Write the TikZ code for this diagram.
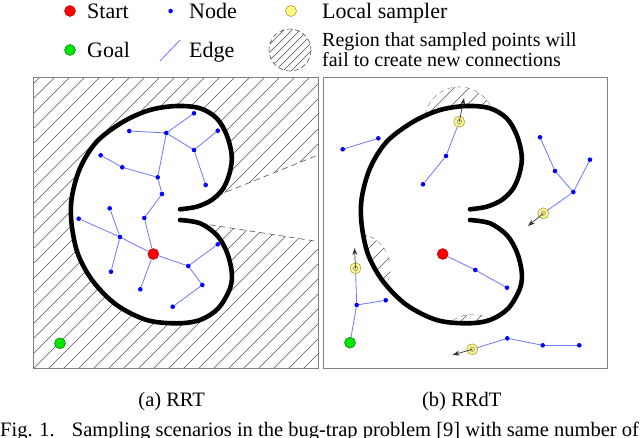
\documentclass[tikz,border=0pt]{standalone}
\usepackage{fontspec}
\setmainfont{Liberation Serif}
\usetikzlibrary{arrows.meta}
\definecolor{nodeblue}{RGB}{0,0,255}
\definecolor{edgeblue}{RGB}{110,120,255}
\definecolor{startred}{RGB}{255,0,0}
\definecolor{goalgreen}{RGB}{0,230,0}
\definecolor{sampyellow}{RGB}{255,248,130}
\definecolor{sampedge}{RGB}{170,160,70}
\definecolor{hatchgray}{RGB}{85,85,85}
\definecolor{boxgray}{RGB}{130,130,130}
\def\kidney{plot[smooth,tension=0.55] coordinates {(180,209.3) (196.7,206.7) (211.7,200) (223.3,188.3) (230,171.7) (231.7,155) (226.7,135) (216.7,118.3) (200,108.3) (176.7,106) (150,110) (123.3,121.7) (96.7,141.7) (80,168.3) (71.7,198.3) (71.7,225) (78.3,255) (93.3,281.7) (116.7,305) (146.7,320) (176.7,323.3) (200,320) (218.3,308.3) (230,288.3) (231.7,271.7) (226.7,251.7) (216.7,235) (200,223.3) (180,220)}}
\def\kidneyR{plot[smooth,tension=0.55] coordinates {(470,209.3) (486.7,206.7) (501.7,200) (513.3,188.3) (520,171.7) (521.7,155) (516.7,135) (506.7,118.3) (490,108.3) (466.7,106) (440,110) (413.3,121.7) (386.7,141.7) (370,168.3) (361.7,198.3) (361.7,225) (368.3,255) (383.3,281.7) (406.7,305) (436.7,320) (466.7,323.3) (490,320) (508.3,308.3) (520,288.3) (521.7,271.7) (516.7,251.7) (506.7,235) (490,223.3) (470,220)}}
\tikzset{
  lbl/.style={inner sep=0pt, font=\fontsize{22}{24}\selectfont},
  smalllbl/.style={inner sep=0pt, font=\fontsize{20}{22}\selectfont},
  caplbl/.style={inner sep=0pt, font=\fontsize{20.5}{22}\selectfont},
  nd/.style={circle, fill=nodeblue, inner sep=0pt, minimum size=4.6pt},
  edge/.style={draw=edgeblue, line width=0.8pt},
  startnd/.style={circle, fill=startred, draw=red!60!black, line width=0.4pt, inner sep=0pt, minimum size=11pt},
  goalnd/.style={circle, fill=goalgreen, draw=green!40!black, line width=0.4pt, inner sep=0pt, minimum size=11pt},
  sampnd/.style={circle, fill=sampyellow, draw=sampedge, line width=0.6pt, inner sep=0pt, minimum size=11pt,
     path picture={\draw[gray, line width=0.5pt] (path picture bounding box.center) circle[radius=2.2pt];}},
  hatch/.style={draw=hatchgray, line width=0.6pt},
  wall/.style={line width=4.6pt, line cap=round, black},
  panel/.style={draw=boxgray, line width=1pt},
  arr/.style={draw=black!80, line width=0.7pt, -{Stealth[length=7pt,width=5pt]}},
}
\begin{document}
\begin{tikzpicture}[x=1pt,y=-1pt]
\useasboundingbox (0,0) rectangle (640,437);
\clip (0,0) rectangle (640,437);
\fill[white] (0,0) rectangle (640,437);

% ---------------- legend ----------------
\node[startnd] (lgStart) at (70,11) {};
\node[lbl, anchor=base west] (lgStartT) at (87,18.5) {Start};
\node[nd] (lgNode) at (170.6,11) {};
\node[lbl, anchor=base west] (lgNodeT) at (189,18.5) {Node};
\node[sampnd, path picture={}] (lgSamp) at (291,11) {};
\node[lbl, anchor=base west] (lgSampT) at (322,18.5) {Local sampler};
\node[goalnd] (lgGoal) at (70,50) {};
\node[lbl, anchor=base west] (lgGoalT) at (87,57) {Goal};
\coordinate (lgE1) at (160,61);
\coordinate (lgE2) at (180,40);
\draw[edge] (lgE1) -- (lgE2);
\node[lbl, anchor=base west] (lgEdgeT) at (189,57) {Edge};
\coordinate (lgR) at (290,50);
\begin{scope}
  \clip (lgR) circle[radius=21];
  \foreach \i in {-8,...,8} \draw[hatch] (290+8*\i,80) -- ++(60,-60);
\end{scope}
\draw[hatch, dashed, dash pattern=on 5pt off 3pt] (lgR) circle[radius=21];
\node[smalllbl, anchor=base west] (lgRT1) at (322,46) {Region that sampled points will};
\node[smalllbl, anchor=base west] (lgRT2) at (322,66.5) {fail to create new connections};

% ---------------- left panel (RRT) ----------------
\begin{scope}
  \clip (33,77) rectangle (318,368);
  \foreach \i in {-20,...,20} \draw[hatch] (34+15*\i,368) -- ++(300,-300);
\end{scope}
\fill[white] (180,210.6) -- (318,155) -- (318,241.5) -- (180,220.2) -- cycle;
\draw[hatch, dashed, dash pattern=on 6pt off 4pt] (180,210.6) -- (318,155);
\draw[hatch, dashed, dash pattern=on 6pt off 4pt] (180,220.2) -- (318,241.5);
\fill[white] \kidney -- cycle;
\draw[panel] (33,77) rectangle (318,368);
\draw[wall] \kidney;

\node[nd] (a) at (194,113.3) {};
\node[nd] (b) at (217.7,130.7) {};
\node[nd] (c) at (129.3,131) {};
\node[nd] (d) at (166.3,133) {};
\node[nd] (e) at (194,150) {};
\node[nd] (f) at (100.7,155.3) {};
\node[nd] (g) at (122.3,167.3) {};
\node[nd] (h) at (157.7,177.3) {};
\node[nd] (i) at (205.7,185) {};
\node[nd] (j) at (162,194) {};
\node[nd] (k) at (109.7,208.3) {};
\node[nd] (l) at (78.7,218.7) {};
\node[nd] (m) at (144.3,218) {};
\node[nd] (n) at (120,237) {};
\node[nd] (o) at (217.7,244.3) {};
\node[nd] (p) at (188.3,266) {};
\node[nd] (q) at (111,271.7) {};
\node[nd] (r) at (202.3,285) {};
\node[nd] (s) at (140.3,289.3) {};
\node[nd] (t) at (172.7,306.7) {};
\node[startnd] (S) at (153.3,254) {};
\node[goalnd] (G) at (60,343.3) {};
\foreach \u/\v in {S/m, m/j, j/h, h/d, h/g, g/f, d/c, d/a, d/e, e/b, e/i, S/n, n/l, n/k, n/q, S/s, S/p, p/o, p/r, r/t}
  \draw[edge] (\u) -- (\v);

% ---------------- right panel (RRdT) ----------------
\coordinate (Y1c) at (459.3,121.7);
\coordinate (Y2c) at (543.3,213.3);
\coordinate (Y3c) at (355.5,268.3);
\coordinate (Y4c) at (472.3,349.3);
\begin{scope}
  \clip (Y1c) circle[radius=35];
  \foreach \i in {-25,...,25} \draw[hatch] (324+15*\i,368) -- ++(300,-300);
  \draw[hatch, dashed, dash pattern=on 5pt off 4pt] (Y1c) circle[radius=35];
\end{scope}
\fill[white] \kidneyR -- cycle;
\begin{scope}
  \clip \kidneyR -- cycle;
  \begin{scope}
    \clip (Y3c) circle[radius=35];
    \foreach \i in {-25,...,25} \draw[hatch] (324+15*\i,368) -- ++(300,-300);
    \draw[hatch, dashed, dash pattern=on 5pt off 4pt] (Y3c) circle[radius=35];
  \end{scope}
  \begin{scope}
    \clip (Y4c) circle[radius=35];
    \foreach \i in {-25,...,25} \draw[hatch] (324+15*\i,368) -- ++(300,-300);
    \draw[hatch, dashed, dash pattern=on 5pt off 4pt] (Y4c) circle[radius=35];
  \end{scope}
\end{scope}
\draw[panel] (323,77) rectangle (607,368);
\draw[wall] \kidneyR;

\node[nd] (u1) at (342.7,149.3) {};
\node[nd] (u2) at (378.3,138.3) {};
\node[nd] (v1) at (423,184.3) {};
\node[nd] (v2) at (446,156) {};
\node[nd] (w1) at (540,137.3) {};
\node[nd] (w2) at (555,171) {};
\node[nd] (w3) at (590,159.7) {};
\node[nd] (w4) at (573.3,192) {};
\node[nd] (x1) at (475.3,270) {};
\node[nd] (x2) at (507,287.7) {};
\node[nd] (z1) at (356.7,305) {};
\node[nd] (z2) at (385.7,300.3) {};
\node[nd] (b1) at (507.3,338.3) {};
\node[nd] (b2) at (542.7,345.3) {};
\node[nd] (b3) at (579.3,345.3) {};
\node[startnd] (S2) at (442.7,254) {};
\node[goalnd] (G2) at (350,342.7) {};
\coordinate (t1) at (464,98);
\coordinate (t2) at (528,226);
\coordinate (t3) at (354.5,248);
\coordinate (t4) at (452.5,355);
\draw[edge] (u1) -- (u2);
\draw[edge] (v1) -- (v2);
\draw[edge] (v2) -- (Y1c);
\draw[edge] (w1) -- (w2);
\draw[edge] (w2) -- (w4);
\draw[edge] (w3) -- (w4);
\draw[edge] (w4) -- (Y2c);
\draw[edge] (S2) -- (x1);
\draw[edge] (x1) -- (x2);
\draw[edge] (G2) -- (z1);
\draw[edge] (z1) -- (z2);
\draw[edge] (z1) -- (Y3c);
\draw[edge] (Y4c) -- (b1);
\draw[edge] (b1) -- (b2);
\draw[edge] (b2) -- (b3);
\node[sampnd, fill opacity=0.85] (Y1) at (Y1c) {};
\node[sampnd, fill opacity=0.85] (Y2) at (Y2c) {};
\node[sampnd, fill opacity=0.85] (Y3) at (Y3c) {};
\node[sampnd, fill opacity=0.85] (Y4) at (Y4c) {};
\draw[arr] (Y1.center) -- (t1);
\draw[arr] (Y2.center) -- (t2);
\draw[arr] (Y3.center) -- (t3);
\draw[arr] (Y4.center) -- (t4);

% ---------------- captions ----------------
\node[caplbl, anchor=base] (capA) at (171.7,406) {(a) RRT};
\node[caplbl, anchor=base] (capB) at (461.7,406) {(b) RRdT};
\node[caplbl, anchor=base west] (fig1) at (0,436.5) {Fig. 1.};
\node[caplbl, anchor=base west] (figT) at (71.7,436.5) {Sampling scenarios in the bug-trap problem [9] with same number of};
\end{tikzpicture}
\end{document}
